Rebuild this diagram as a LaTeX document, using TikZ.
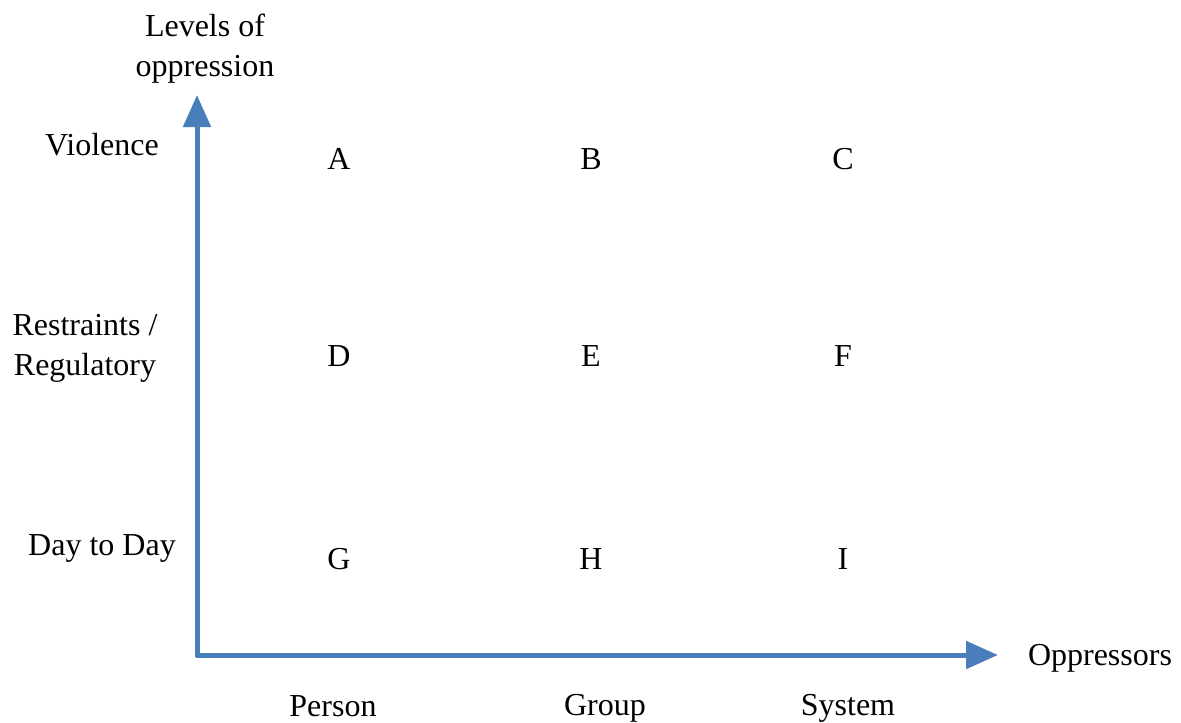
\documentclass[tikz,border=0pt]{standalone}
\usepackage{fontspec}
\setmainfont{Liberation Serif}
\usetikzlibrary{arrows.meta}

\definecolor{axisblue}{RGB}{74,126,187}

\tikzset{
    axis/.style={line width=2.5pt, axisblue, -{Triangle[length=16pt,width=13.5pt]}},
    lbl/.style={font=\fontsize{16}{20}\selectfont, align=center, inner sep=0pt},
    cell/.style={font=\fontsize{16}{20}\selectfont, inner sep=0pt}
}

\begin{document}
\begin{tikzpicture}[x=0.5pt,y=-0.5pt]

    \useasboundingbox (0,0) rectangle (1181,722);

    \coordinate (Origin) at (197,655);
    \coordinate (yTip) at (197,95);
    \coordinate (xTip) at (998,655);

    \draw [axis] (197,657.25) -- (yTip);
    \draw [axis] (195.75,655) -- (xTip);

    % axis titles
    \node [lbl] (ytitle) at (205,49) {Levels of\\oppression};
    \node [lbl] (xtitle) at (1100,658) {Oppressors};

    % levels
    \node [lbl] (violence) at (102,145) {Violence};
    \node [lbl] (restraints) at (85,348) {Restraints /\\Regulatory};
    \node [lbl] (daytoday) at (102,548) {Day to Day};

    % oppressors
    \node [lbl] (person) at (333,706) {Person};
    \node [lbl] (group) at (605,708) {Group};
    \node [lbl] (system) at (848,708) {System};

    % cells
    \node [cell] (A) at (339,159) {A};
    \node [cell] (B) at (591,159) {B};
    \node [cell] (C) at (843,159) {C};
    \node [cell] (D) at (339,356) {D};
    \node [cell] (E) at (591,356) {E};
    \node [cell] (F) at (843,356) {F};
    \node [cell] (G) at (339,559) {G};
    \node [cell] (H) at (591,559) {H};
    \node [cell] (I) at (843,559) {I};

\end{tikzpicture}
\end{document}
